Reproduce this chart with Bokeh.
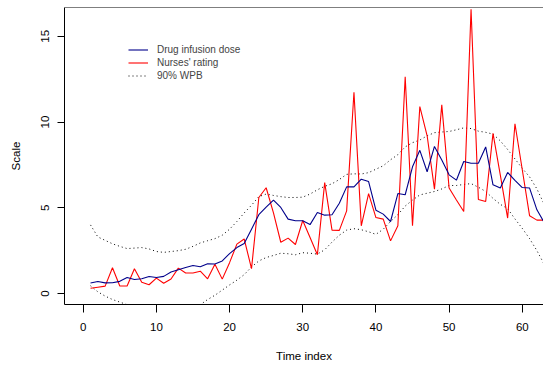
from bokeh.plotting import figure
from bokeh.models import Span, FixedTicker, Legend, LegendItem, Range1d
from bokeh.embed import file_html
from bokeh.resources import INLINE

time_index = list(range(1, 64))

drug_dose = [0.61, 0.70, 0.62, 0.63, 0.71, 0.93, 0.82, 0.86, 0.99, 0.93,
             1.00, 1.25, 1.39, 1.52, 1.63, 1.56, 1.73, 1.72, 1.90, 2.33,
             2.68, 2.92, 3.75, 4.60, 5.04, 5.45, 5.02, 4.34, 4.24, 4.24,
             4.02, 4.72, 4.57, 4.59, 5.26, 6.22, 6.22, 6.67, 6.53, 4.86,
             4.63, 4.20, 5.83, 5.76, 7.39, 8.35, 7.10, 8.58, 7.78, 6.92,
             6.61, 7.70, 7.60, 7.60, 8.55, 6.34, 6.15, 7.06, 6.60, 6.18,
             6.15, 4.88, 4.14]

nurses_rating = [0.31, 0.37, 0.43, 1.50, 0.44, 0.44, 1.44, 0.66, 0.51, 0.90,
                 0.60, 0.85, 1.48, 1.20, 1.20, 1.30, 0.86, 1.71, 0.84, 1.80,
                 2.88, 3.18, 1.45, 5.60, 6.17, 4.70, 2.99, 3.23, 2.86, 4.26,
                 3.27, 2.26, 6.47, 3.70, 3.68, 4.82, 11.74, 3.95, 5.83, 4.43,
                 4.34, 3.07, 3.95, 12.64, 3.95, 10.90, 9.20, 6.09, 11.00, 6.15,
                 5.45, 4.78, 16.58, 5.48, 5.37, 9.34, 6.90, 4.40, 9.90, 7.22,
                 4.53, 4.28, 4.28]

wpb_upper = [4.00, 3.30, 3.10, 2.90, 2.75, 2.62, 2.65, 2.68, 2.60, 2.45,
             2.40, 2.45, 2.50, 2.58, 2.75, 2.95, 3.08, 3.20, 3.40, 3.75,
             4.20, 4.70, 5.15, 5.65, 5.80, 5.72, 5.65, 5.60, 5.60, 5.62,
             5.80, 6.05, 6.25, 6.40, 6.65, 6.95, 6.98, 6.97, 7.05, 7.25,
             7.45, 7.80, 8.10, 8.55, 8.80, 8.95, 9.20, 9.38, 9.42, 9.45,
             9.55, 9.66, 9.62, 9.47, 9.40, 9.30, 8.90, 8.40, 7.85, 7.30,
             6.80, 6.10, 5.20]

wpb_lower = [0.45, 0.10, -0.15, -0.35, -0.50, -0.65, -0.80, -0.90, -1.00, -1.05,
             -1.10, -1.10, -1.05, -0.95, -0.80, -0.65, -0.35, -0.10, 0.20, 0.50,
             0.78, 1.10, 1.55, 1.90, 2.10, 2.22, 2.35, 2.32, 2.26, 2.38,
             2.35, 2.30, 2.55, 3.00, 3.40, 3.70, 3.78, 3.72, 3.60, 3.45,
             3.75, 4.20, 4.60, 5.10, 5.45, 5.75, 5.85, 5.95, 6.10, 6.30,
             6.30, 6.36, 6.41, 6.20, 5.95, 5.55, 5.20, 4.95, 4.35, 3.80,
             3.20, 2.50, 1.70]

x_ticks = [0, 10, 20, 30, 40, 50, 60]
y_ticks = [0, 5, 10, 15]

FONT = "Liberation Sans"

p = figure(width=543, height=365, output_backend="svg", toolbar_location=None,
           x_range=Range1d(-2.556, 62.9), y_range=Range1d(-0.64, 16.68),
           min_border_left=64, min_border_right=0, min_border_top=7,
           min_border_bottom=61)
p.outline_line_color = None
p.grid.visible = False
p.background_fill_color = "white"

for ax in (p.xaxis, p.yaxis):
    ax.axis_line_color = "black"
    ax.major_tick_line_color = "black"
    ax.minor_tick_line_color = None
    ax.major_tick_in = 0
    ax.major_label_text_font = FONT
    ax.major_label_text_font_size = "11.5px"
    ax.major_label_text_color = "black"
    ax.axis_label_text_font = FONT
    ax.axis_label_text_font_size = "11.5px"
    ax.axis_label_text_font_style = "normal"
    ax.axis_label_text_color = "black"

p.xaxis.ticker = FixedTicker(ticks=x_ticks)
p.xaxis.major_tick_out = 8
p.xaxis.major_label_standoff = 10
p.xaxis.axis_label = "Time index"
p.xaxis.axis_label_standoff = 16

p.yaxis.ticker = FixedTicker(ticks=y_ticks)
p.yaxis.major_tick_out = 7
p.yaxis.major_label_standoff = 8
p.yaxis.major_label_orientation = "vertical"
p.yaxis.axis_label = "Scale"
p.yaxis.axis_label_standoff = 17

p.add_layout(Span(location=16.68, dimension="width", line_color="black", line_width=1))

r_up = p.line(time_index, wpb_upper, line_color="black", line_width=1, line_dash="1 3")
r_lo = p.line(time_index, wpb_lower, line_color="black", line_width=1, line_dash="1 3")
r_red = p.line(time_index, nurses_rating, line_color="#FF0000", line_width=1.1)
r_blue = p.line(time_index, drug_dose, line_color="#00008B", line_width=1.1)

legend = Legend(items=[
    LegendItem(label="Drug infusion dose", renderers=[r_blue]),
    LegendItem(label="Nurses' rating", renderers=[r_red]),
    LegendItem(label="90% WPB", renderers=[r_up]),
], location=(64, 222.5))
legend.label_text_font = FONT
legend.label_text_font_size = "10px"
legend.glyph_width = 20
legend.glyph_height = 13
legend.label_height = 13
legend.spacing = 0
legend.padding = 0
legend.margin = 0
legend.label_standoff = 9
legend.border_line_color = None
legend.background_fill_alpha = 0
p.add_layout(legend)

open("out.html", "w").write(file_html(p, INLINE))
